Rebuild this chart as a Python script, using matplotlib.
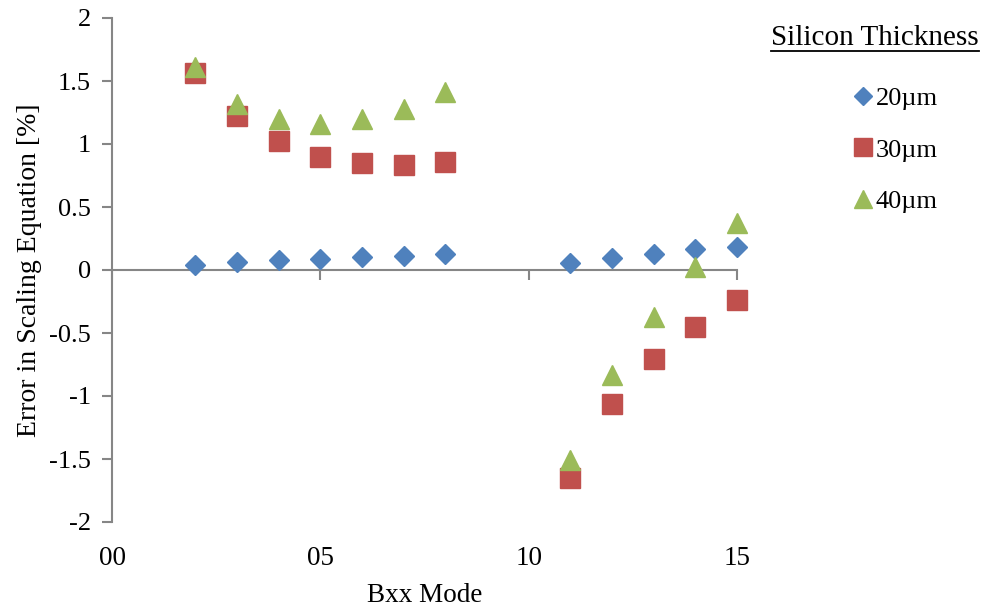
import matplotlib
matplotlib.use("Agg")
import matplotlib.pyplot as plt
from matplotlib.lines import Line2D

plt.rcParams['font.family'] = ['Liberation Serif', 'DejaVu Serif']

modes = [2, 3, 4, 5, 6, 7, 8, 11, 12, 13, 14, 15]
err_20 = [0.04, 0.06, 0.08, 0.09, 0.10, 0.11, 0.13, 0.055, 0.095, 0.13, 0.165, 0.185]
err_30 = [1.56, 1.22, 1.02, 0.90, 0.85, 0.83, 0.86, -1.65, -1.06, -0.71, -0.45, -0.24]
err_40 = [1.61, 1.32, 1.20, 1.16, 1.20, 1.28, 1.41, -1.51, -0.83, -0.37, 0.02, 0.37]
series_labels = ['20µm', '30µm', '40µm']
colors = ['#4F81BD', '#C0504D', '#9BBB59']
x_ticks = [0, 5, 10, 15]
x_ticklabels = ['00', '05', '10', '15']
y_ticks = [-2, -1.5, -1, -0.5, 0, 0.5, 1, 1.5, 2]
y_ticklabels = ['-2', '-1.5', '-1', '-0.5', '0', '0.5', '1', '1.5', '2']

fig = plt.figure(figsize=(9.85, 6.08), dpi=100)
ax = fig.add_axes([112/985, 1-522/608, (737-112)/985, (522-18)/608])

ax.plot(modes, err_20, linestyle='none', marker='D', markersize=10, color=colors[0], clip_on=False, zorder=3)
ax.plot(modes, err_30, linestyle='none', marker='s', markersize=14, color=colors[1], clip_on=False, zorder=3)
ax.plot(modes, err_40, linestyle='none', marker='^', markersize=14.5, color=colors[2], clip_on=False, zorder=4)

ax.set_xlim(0, 15)
ax.set_ylim(-2, 2)

gray = '#868686'
for s in ['top', 'right']:
    ax.spines[s].set_visible(False)
ax.spines['left'].set_color(gray)
ax.spines['left'].set_linewidth(1.5)
ax.spines['bottom'].set_position(('data', 0))
ax.spines['bottom'].set_color(gray)
ax.spines['bottom'].set_linewidth(1.5)

ax.set_xticks(x_ticks)
ax.tick_params(axis='x', direction='out', length=7, width=1.5, color=gray, labelbottom=False)
ax.set_yticks(y_ticks)
ax.set_yticklabels(y_ticklabels)
ax.tick_params(axis='y', direction='out', length=7, width=1.5, color=gray, labelsize=19, pad=8)

sec = ax.secondary_xaxis(0.0)
sec.set_xticks(x_ticks)
sec.set_xticklabels(x_ticklabels)
sec.tick_params(axis='x', length=0, labelsize=19.5, pad=17)
sec.spines['bottom'].set_visible(False)
sec.set_xlabel('Bxx Mode', fontsize=19.5, labelpad=9)

ax.set_ylabel('Error in Scaling Equation [%]', fontsize=20, labelpad=5)

handles = [Line2D([], [], linestyle='none', marker='D', markersize=8.7, color=colors[0]),
           Line2D([], [], linestyle='none', marker='s', markersize=13, color=colors[1]),
           Line2D([], [], linestyle='none', marker='^', markersize=13, color=colors[2])]
leg = fig.legend(handles, series_labels, loc='upper left', bbox_to_anchor=(853/985, 1-87/608),
                 frameon=False, fontsize=19, handlelength=0.75, handletextpad=0.1,
                 labelspacing=1.05, borderpad=0, borderaxespad=0)

title = fig.text(875/985, 1-38/608, 'Silicon Thickness', fontsize=21, ha='center', va='center')
fig.canvas.draw()
bb = title.get_window_extent().transformed(fig.transFigure.inverted())
fig.add_artist(Line2D([bb.x0, bb.x1], [1-50.5/608, 1-50.5/608], transform=fig.transFigure, color='black', linewidth=1.3))

fig.savefig('out.png', dpi=100)
